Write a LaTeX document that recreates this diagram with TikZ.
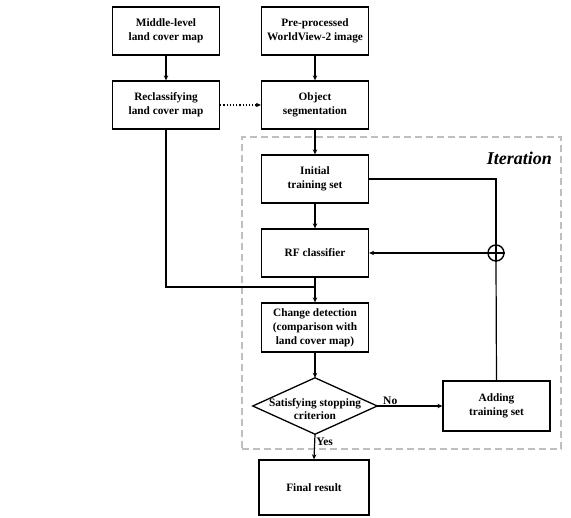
\documentclass[tikz,border=0pt]{standalone}
\usepackage{fontspec}
\setmainfont{Liberation Serif}
\usetikzlibrary{arrows.meta}
\begin{document}
\begin{tikzpicture}[x=1pt,y=-1pt,
  box/.style={draw,line width=1.3pt,minimum width=107pt,minimum height=48pt,inner sep=0pt,align=center,font=\fontsize{11.3}{14}\selectfont\bfseries},
  conn/.style={line width=1.2pt},
  arr/.style={conn,-{Stealth[length=5pt,width=4.5pt]}},
  lbl/.style={font=\fontsize{11.5}{13}\selectfont\bfseries,inner sep=1pt}]
\useasboundingbox (0,0) rectangle (571,518);
% iteration frame
\node[draw=black!25,line width=2pt,dash pattern=on 7pt off 4pt,minimum width=319pt,minimum height=312pt,inner sep=0pt] (iter) at (401.5,293) {};
\node[font=\fontsize{18}{20}\selectfont\bfseries\itshape,anchor=east,inner sep=0pt] (itl) at (552,158) {Iteration};
% boxes
\node[box] (mid) at (166,31) {Middle-level\\land cover map};
\node[box] (pre) at (315,31) {Pre-processed\\WorldView-2 image};
\node[box] (recl) at (166,105) {Reclassifying\\land cover map};
\node[box] (seg) at (315,105) {Object\\segmentation};
\node[box] (init) at (315,179) {Initial\\training set};
\node[box] (rf) at (315,253) {RF classifier};
\node[box,minimum height=49pt] (cd) at (315,327.5) {Change detection\\(comparison with\\land cover map)};
\node[minimum width=124pt,minimum height=56pt,inner sep=0pt] (dia) at (315,406) {};
\draw[line width=1.3pt] (dia.north) -- (dia.east) -- (dia.south) -- (dia.west) -- cycle;
\node[inner sep=0pt,align=center,font=\fontsize{11.3}{12.5}\selectfont\bfseries] (diat) at (315,409) {Satisfying stopping\\criterion};
\node[box,minimum height=50pt] (add) at (496.5,406) {Adding\\training set};
\node[box,minimum width=110pt,minimum height=55pt] (fin) at (314,487.5) {Final result};
\node[circle,draw,line width=1.4pt,minimum size=16pt,inner sep=0pt] (plus) at (496,253) {};
\draw[conn,line width=1.4pt] (plus.north) -- (plus.south) (plus.west) -- (plus.east);
% connectors
\draw[arr] (mid) -- (recl);
\draw[arr] (pre) -- (seg);
\draw[arr,dotted] (recl) -- (seg);
\draw[arr] (seg) -- (init);
\draw[arr] (init) -- (rf);
\draw[arr] (rf) -- (cd);
\coordinate (j) at (315,287);
\draw[conn] (recl.south) |- (j);
\draw[conn] (init.east) -| (plus.north);
\draw[conn] (add.north) -- (plus.south);
\draw[arr] (plus.west) -- (plus.west -| rf.east);
\draw[arr] (cd) -- (dia.north);
\draw[arr] (dia.east) -- node[lbl,above,pos=0.2] {No} (add.west);
\draw[arr] (dia.south) -- node[lbl,right,pos=0.3] {Yes} (fin.north);
\end{tikzpicture}
\end{document}
